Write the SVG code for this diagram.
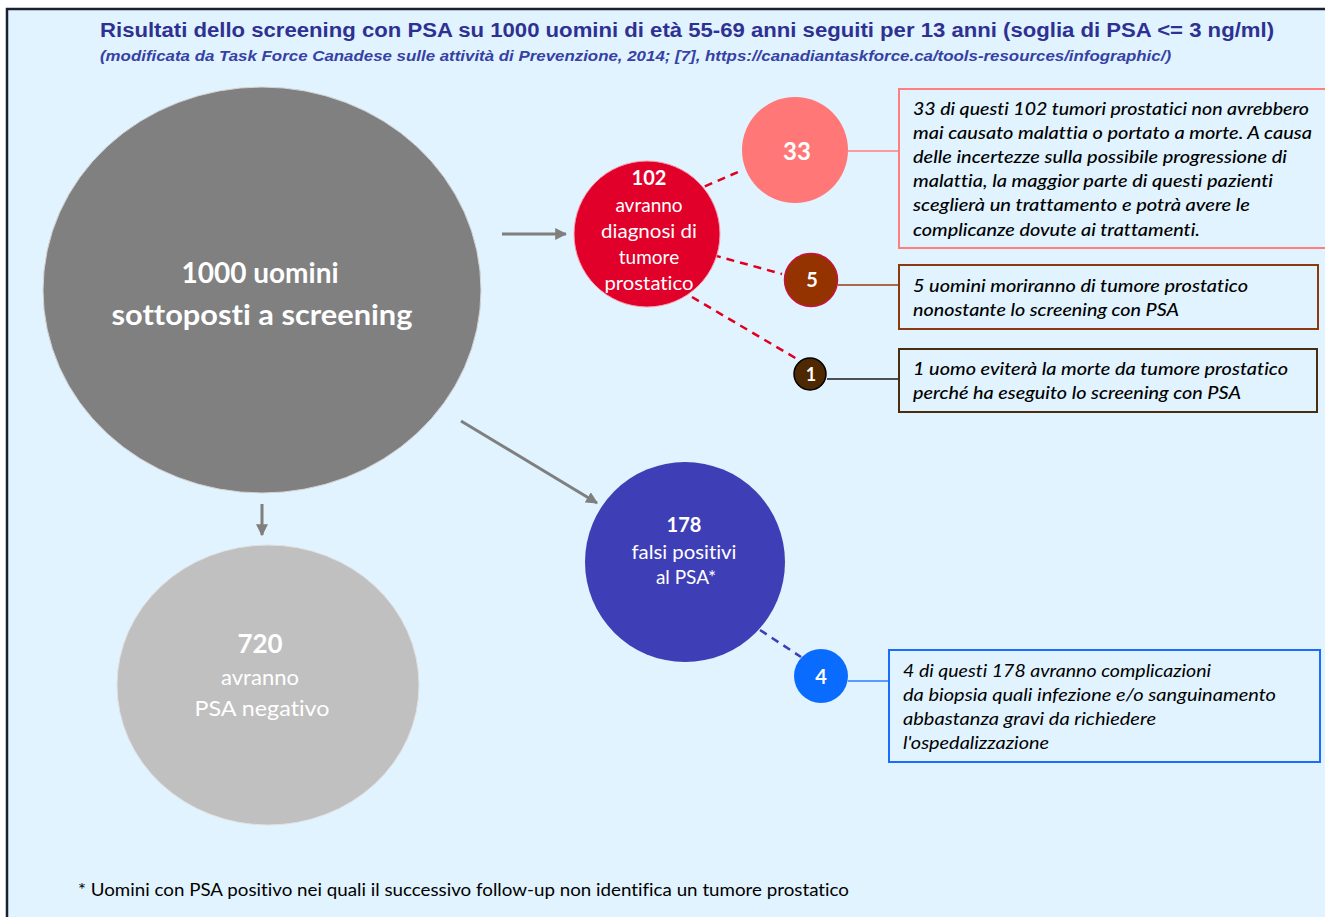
<svg xmlns="http://www.w3.org/2000/svg" width="1325" height="917" viewBox="0 0 1325 917">
<defs>
<style>
text{font-variant-ligatures:none}
.c{font-family:Lato,"Open Sans",sans-serif;fill:#fff;text-anchor:middle}
.b{font-weight:700}
.box{fill:none;stroke-width:2}
.bt{font-family:Lato,"Open Sans",sans-serif;font-style:italic;font-size:17px;fill:#000}
.bm{font-weight:500}
.arr{stroke:#7f7f7f;stroke-width:3;fill:none}
.dr{stroke:#e0001e;stroke-width:2.5;stroke-dasharray:8 6;fill:none}
</style>
<marker id="ah" viewBox="0 0 10 10" refX="9" refY="5" markerWidth="4" markerHeight="4" orient="auto" markerUnits="strokeWidth">
<path d="M0,0 L10,5 L0,10 z" fill="#7f7f7f"/>
</marker>
</defs>
<rect x="0" y="0" width="1325" height="917" fill="#fff"/>
<rect x="7" y="9" width="1330" height="920" fill="#e1f3fe" stroke="#1b2030" stroke-width="2.5"/>

<g id="title">
<text x="100" y="37" font-family="Liberation Sans, Arial, sans-serif" font-weight="700" font-size="20" fill="#2e3192" textLength="1174" lengthAdjust="spacingAndGlyphs">Risultati dello screening con PSA su 1000 uomini di età 55-69 anni seguiti per 13 anni (soglia di PSA &lt;= 3 ng/ml)</text>
<text x="100" y="61" font-family="Liberation Sans, Arial, sans-serif" font-weight="700" font-style="italic" font-size="15" fill="#3641a6" textLength="1071" lengthAdjust="spacingAndGlyphs">(modificata da Task Force Canadese sulle attività di Prevenzione, 2014; [7], https://canadiantaskforce.ca/tools-resources/infographic/)</text>
</g>

<g id="connectors">
<line class="arr" x1="502" y1="234" x2="566" y2="234" marker-end="url(#ah)"/>
<line class="arr" x1="461" y1="421" x2="597" y2="503" marker-end="url(#ah)"/>
<line class="arr" x1="262" y1="504" x2="262" y2="535" marker-end="url(#ah)"/>
<line class="dr" x1="692" y1="192" x2="738" y2="172"/>
<line class="dr" x1="713" y1="255" x2="782" y2="274"/>
<line class="dr" x1="692" y1="297" x2="797" y2="359"/>
<line x1="760" y1="630" x2="801" y2="657" stroke="#3d3db8" stroke-width="2.5" stroke-dasharray="8 6"/>
<line x1="848" y1="151" x2="899" y2="151" stroke="#ff7f7f" stroke-width="1.5"/>
<line x1="838" y1="285" x2="899" y2="285" stroke="#943b10" stroke-width="1.5"/>
<line x1="827" y1="379" x2="899" y2="379" stroke="#1a1a1a" stroke-width="1.5"/>
<line x1="848" y1="681" x2="889" y2="681" stroke="#2a7fff" stroke-width="1.5"/>
</g>

<g id="n1000">
<ellipse cx="262" cy="290" rx="219" ry="203" fill="#808080" stroke="#d4d4d4" stroke-width="1"/>
<text class="c b" x="260" y="283" font-size="28">1000 uomini</text>
<text class="c b" x="262" y="325" font-size="28" textLength="301" lengthAdjust="spacingAndGlyphs">sottoposti a screening</text>
</g>

<g id="n720">
<ellipse cx="268" cy="685" rx="151" ry="140" fill="#c0c0c0" stroke="#e0e0e0" stroke-width="1"/>
<text class="c b" x="260" y="653" font-size="26">720</text>
<text class="c" x="260" y="685" font-size="22" fill="#f5f5f5">avranno</text>
<text class="c" x="262" y="716" font-size="22" fill="#f5f5f5" textLength="135" lengthAdjust="spacingAndGlyphs">PSA negativo</text>
</g>

<g id="n102">
<circle cx="647" cy="234" r="73" fill="#e0002a" stroke="#f4a5b5" stroke-width="1"/>
<text class="c b" x="649" y="185" font-size="20">102</text>
<text class="c" x="649" y="212" font-size="19">avranno</text>
<text class="c" x="649" y="238" font-size="19" textLength="96" lengthAdjust="spacingAndGlyphs">diagnosi di</text>
<text class="c" x="649" y="264" font-size="19">tumore</text>
<text class="c" x="649" y="290" font-size="19" textLength="89" lengthAdjust="spacingAndGlyphs">prostatico</text>
</g>

<g id="n33">
<circle cx="795" cy="150" r="53" fill="#ff7777"/>
<text class="c b" x="797" y="160" font-size="24">33</text>
</g>
<g id="n5">
<circle cx="811" cy="280" r="26.5" fill="#943200" stroke="#c8143c" stroke-width="1.5"/>
<text class="c b" x="812" y="287" font-size="20">5</text>
</g>
<g id="n1">
<circle cx="810" cy="374" r="16" fill="#4d2800" stroke="#000" stroke-width="1.5"/>
<text class="c b" x="811" y="381" font-size="18">1</text>
</g>

<g id="n178">
<circle cx="685" cy="562" r="100" fill="#3e3eb6"/>
<text class="c b" x="684" y="532" font-size="20">178</text>
<text class="c" x="684" y="559" font-size="19" textLength="105" lengthAdjust="spacingAndGlyphs">falsi positivi</text>
<text class="c" x="686" y="584" font-size="19">al PSA*</text>
</g>
<g id="n4">
<circle cx="821" cy="676" r="27" fill="#0a6cff"/>
<text class="c b" x="821" y="684" font-size="20">4</text>
</g>

<g id="box33">
<rect class="box" x="899" y="89" width="440" height="159" stroke="#ff7f7f"/>
<text class="bt bm" x="913" y="115" textLength="396" lengthAdjust="spacingAndGlyphs">33 di questi 102 tumori prostatici non avrebbero</text>
<text class="bt bm" x="913" y="139" textLength="399" lengthAdjust="spacingAndGlyphs">mai causato malattia o portato a morte. A causa</text>
<text class="bt bm" x="913" y="163" textLength="374" lengthAdjust="spacingAndGlyphs">delle incertezze sulla possibile progressione di</text>
<text class="bt bm" x="913" y="187" textLength="360" lengthAdjust="spacingAndGlyphs">malattia, la maggior parte di questi pazienti</text>
<text class="bt bm" x="913" y="211" textLength="337" lengthAdjust="spacingAndGlyphs">sceglierà un trattamento e potrà avere le</text>
<text class="bt bm" x="913" y="236" textLength="287" lengthAdjust="spacingAndGlyphs">complicanze dovute ai trattamenti.</text>
</g>
<g id="box5">
<rect class="box" x="899" y="265" width="419" height="64" stroke="#8b3a0f"/>
<text class="bt bm" x="913" y="292" textLength="335" lengthAdjust="spacingAndGlyphs">5 uomini moriranno di tumore prostatico</text>
<text class="bt bm" x="913" y="316" textLength="266" lengthAdjust="spacingAndGlyphs">nonostante lo screening con PSA</text>
</g>
<g id="box1">
<rect class="box" x="899" y="349" width="418" height="63" stroke="#4a2c0f"/>
<text class="bt bm" x="913" y="375" textLength="375" lengthAdjust="spacingAndGlyphs">1 uomo eviterà la morte da tumore prostatico</text>
<text class="bt bm" x="913" y="399" textLength="328" lengthAdjust="spacingAndGlyphs">perché ha eseguito lo screening con PSA</text>
</g>
<g id="box4">
<rect class="box" x="889" y="650" width="431" height="112" stroke="#1a6cff"/>
<text class="bt" x="903" y="677" textLength="308" lengthAdjust="spacingAndGlyphs">4 di questi 178 avranno complicazioni</text>
<text class="bt" x="903" y="701" textLength="373" lengthAdjust="spacingAndGlyphs">da biopsia quali infezione e/o sanguinamento</text>
<text class="bt" x="903" y="725" textLength="253" lengthAdjust="spacingAndGlyphs">abbastanza gravi da richiedere</text>
<text class="bt" x="903" y="749" textLength="146" lengthAdjust="spacingAndGlyphs">l'ospedalizzazione</text>
</g>

<g id="footnote">
<text x="78" y="896" font-family="Lato, 'Open Sans', sans-serif" font-size="17" fill="#000" textLength="771" lengthAdjust="spacingAndGlyphs">* Uomini con PSA positivo nei quali il successivo follow-up non identifica un tumore prostatico</text>
</g>
</svg>
